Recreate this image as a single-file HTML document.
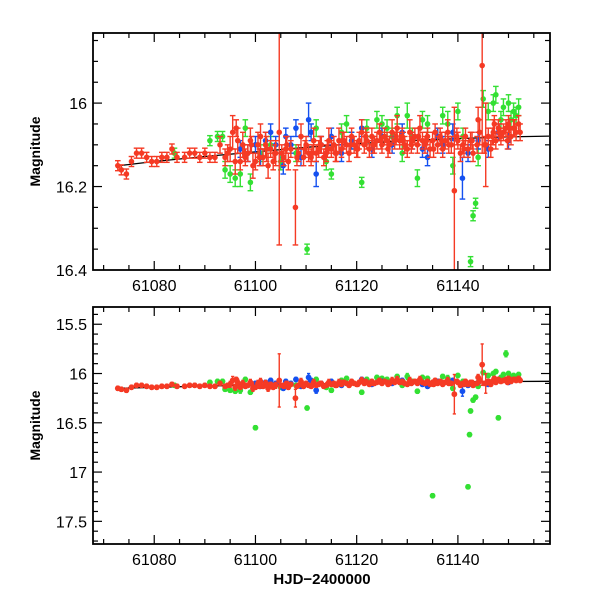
<!DOCTYPE html>
<html><head><meta charset="utf-8">
<style>
html,body{margin:0;padding:0;background:#fff;}
svg{display:block;}
text{font-family:"Liberation Sans",sans-serif;fill:#000;}
</style></head>
<body>
<svg id="chart" width="600" height="600" viewBox="0 0 600 600"></svg>
<script>
const xTicks = [61080, 61100, 61120, 61140];
const topYTicks = [16, 16.2, 16.4];
const botYTicks = [15.5, 16, 16.5, 17, 17.5];
const modelT = [61073, 61080, 61090, 61100, 61110, 61120, 61130, 61140, 61150, 61158];
const modelM = [16.150, 16.140, 16.128, 16.117, 16.106, 16.097, 16.090, 16.085, 16.081, 16.079];

const redT = [61072.8,61073.5,61074.5,61075.5,61076.5,61077.5,61078.5,61079.5,61080.5,61081.5,61082.5,61083.5,61084.5,61086,61087,61088,61089,61090,61091,61092,61093,61094,61094.5,61095,61095.5,61096,61096.5,61097,61097.5,61098,61098.5,61099,61099.5,61100,61100.5,61101,61101.5,61102,61102.5,61103,61103.5,61104,61104.7,61105.2,61105.6,61106,61106.5,61107,61107.9,61108.5,61109,61109.5,61110,61110.5,61111,61111.5,61112,61112.5,61113,61113.5,61114,61114.5,61115,61115.5,61116,61116.5,61117,61117.5,61118,61118.5,61119,61119.5,61120,61120.5,61121,61121.5,61122,61122.5,61123,61123.5,61124,61124.5,61125,61125.5,61126,61126.5,61127,61127.5,61128,61128.5,61129,61129.5,61130,61130.5,61131,61131.5,61132,61132.5,61133,61133.5,61134,61134.5,61135,61135.5,61136,61136.5,61137,61137.5,61138,61138.7,61139.3,61140,61140.5,61141,61141.5,61142,61142.5,61143,61143.8,61144.3,61144.8,61145.5,61146,61146.5,61147,61147.5,61148,61148.5,61149,61149.5,61150,61150.5,61151,61151.5,61152,
61096.2,61097.8,61099.2,61100.8,61102.2,61103.8,61106.2,61108.2,61109.8,61111.2,61112.8,61114.2,61115.8,61117.2,61118.8,61120.2,61121.8,61123.2,61124.8,61126.2,61127.8,61129.2,61130.8,61132.2,61133.8,61135.2,61136.8,61138.2,61139.8,61141.2,61142.8,61145.2,61146.8,61148.2,61149.8,61151.2,61152.3,61150.2,61147.2,61144.0];
const redM = [16.15,16.16,16.17,16.14,16.12,16.12,16.13,16.14,16.14,16.13,16.13,16.11,16.13,16.13,16.12,16.12,16.13,16.12,16.13,16.13,16.10,16.13,16.12,16.11,16.07,16.14,16.09,16.14,16.10,16.13,16.12,16.09,16.15,16.14,16.10,16.08,16.13,16.10,16.15,16.11,16.14,16.12,16.07,16.12,16.13,16.11,16.14,16.11,16.25,16.12,16.08,16.13,16.10,16.12,16.13,16.09,16.12,16.11,16.10,16.13,16.12,16.09,16.11,16.10,16.12,16.09,16.11,16.09,16.10,16.12,16.08,16.10,16.11,16.09,16.07,16.10,16.09,16.11,16.08,16.10,16.09,16.07,16.10,16.08,16.09,16.10,16.07,16.09,16.06,16.09,16.08,16.10,16.11,16.07,16.09,16.08,16.10,16.06,16.09,16.10,16.08,16.11,16.09,16.07,16.10,16.08,16.11,16.09,16.07,16.10,16.21,16.09,16.12,16.10,16.08,16.11,16.09,16.12,16.10,16.07,15.91,16.10,16.08,16.11,16.07,16.09,16.06,16.08,16.07,16.06,16.05,16.08,16.06,16.07,16.05,16.06,
16.12,16.10,16.13,16.11,16.12,16.10,16.13,16.11,16.12,16.10,16.11,16.12,16.09,16.10,16.11,16.08,16.10,16.09,16.11,16.08,16.09,16.10,16.08,16.09,16.11,16.09,16.10,16.08,16.11,16.09,16.10,16.08,16.07,16.09,16.06,16.07,16.06,16.05,16.04,16.06];
const redE = [0.01,0.01,0.01,0.01,0.01,0.01,0.01,0.01,0.01,0.01,0.01,0.01,0.01,0.01,0.01,0.01,0.01,0.01,0.01,0.01,0.02,0.02,0.02,0.03,0.04,0.03,0.03,0.02,0.03,0.02,0.02,0.03,0.03,0.02,0.03,0.03,0.02,0.03,0.03,0.02,0.02,0.03,0.27,0.02,0.02,0.03,0.02,0.02,0.09,0.02,0.03,0.02,0.02,0.02,0.02,0.03,0.02,0.02,0.02,0.02,0.02,0.03,0.02,0.02,0.02,0.03,0.02,0.02,0.02,0.02,0.02,0.02,0.02,0.02,0.03,0.02,0.02,0.02,0.02,0.02,0.02,0.02,0.02,0.02,0.02,0.02,0.03,0.02,0.03,0.02,0.02,0.02,0.02,0.03,0.02,0.02,0.02,0.03,0.02,0.02,0.02,0.02,0.02,0.02,0.02,0.02,0.02,0.02,0.03,0.02,0.20,0.02,0.02,0.02,0.02,0.02,0.02,0.02,0.02,0.03,0.21,0.10,0.02,0.02,0.03,0.02,0.02,0.02,0.02,0.02,0.02,0.02,0.02,0.02,0.02,0.02,
0.02,0.02,0.02,0.03,0.02,0.02,0.02,0.02,0.02,0.02,0.02,0.02,0.02,0.02,0.02,0.02,0.02,0.02,0.02,0.02,0.02,0.02,0.02,0.02,0.02,0.02,0.02,0.02,0.02,0.02,0.02,0.02,0.02,0.02,0.02,0.02,0.02,0.02,0.03,0.02];

const greenT = [61084,61091,61092.5,61093.5,61094,61095,61096,61097,61098,61099,61100,61101,61103,61105,61108,61110.2,61112,61114,61115,61117,61118,61119,61121,61122,61124,61125,61126,61127,61128,61129,61130,61131,61132,61133,61134,61135,61136,61137,61138,61139,61140,61141,61142,61142.3,61142.5,61143,61143.5,61144,61145,61146,61147,61147.5,61148,61148.5,61149,61149.5,61150,61150.5,61151,61151.5,61152];
const greenM = [16.12,16.09,16.08,16.08,16.16,16.17,16.18,16.17,16.06,16.19,16.55,16.12,16.10,16.14,16.12,16.35,16.06,16.14,16.17,16.07,16.05,16.09,16.19,16.06,16.04,16.05,16.06,16.08,16.03,16.12,16.03,16.08,16.18,16.04,16.05,17.24,16.08,16.03,16.05,16.15,16.02,16.08,17.15,16.62,16.38,16.27,16.24,16.13,15.99,16.02,16.00,15.98,16.45,16.04,16.01,15.80,16.00,16.04,16.02,16.03,16.01];
const greenE = [0.01,0.01,0.01,0.01,0.02,0.02,0.02,0.03,0.02,0.02,0.01,0.02,0.02,0.02,0.02,0.01,0.02,0.02,0.01,0.02,0.02,0.02,0.01,0.02,0.02,0.02,0.02,0.02,0.02,0.02,0.03,0.02,0.02,0.02,0.02,0.01,0.02,0.02,0.03,0.02,0.02,0.02,0.01,0.01,0.01,0.01,0.01,0.02,0.02,0.02,0.02,0.02,0.01,0.02,0.02,0.03,0.02,0.02,0.02,0.02,0.02];

const blueT = [61097,61098.5,61100,61101,61102,61103,61104,61105.5,61106,61107,61108,61109,61110.5,61111,61112,61113,61115,61117,61119,61121,61123,61125,61127,61129,61131,61133,61134,61136,61137,61139,61140.9,61142,61144,61146,61148,61150];
const blueM = [16.11,16.12,16.10,16.13,16.09,16.07,16.10,16.15,16.08,16.10,16.06,16.13,16.04,16.07,16.17,16.10,16.08,16.12,16.09,16.06,16.11,16.08,16.10,16.07,16.09,16.11,16.13,16.08,16.10,16.07,16.18,16.12,16.09,16.11,16.07,16.09];
const blueE = [0.02,0.02,0.02,0.02,0.02,0.02,0.02,0.02,0.02,0.02,0.02,0.02,0.04,0.02,0.03,0.02,0.02,0.02,0.02,0.02,0.02,0.02,0.02,0.02,0.02,0.02,0.02,0.02,0.02,0.02,0.05,0.02,0.02,0.02,0.02,0.02];

const NS = "http://www.w3.org/2000/svg";
const svg = document.getElementById('chart');
const X0 = 93, X1 = 550, T0 = 61067.9, T1 = 61158.2;
function xs(t){ return X0 + (t - T0) / (T1 - T0) * (X1 - X0); }
function mk(tag, attrs, parent){
  const e = document.createElementNS(NS, tag);
  for (const k in attrs) e.setAttribute(k, attrs[k]);
  (parent || svg).appendChild(e);
  return e;
}

const panels = [
  {name:'top', y0:33, y1:270, m0:15.832, m1:16.4, ticks:topYTicks, minor:0.05, minorStart:15.85, cap:2.8, r:2.8, emin:0.012},
  {name:'bottom', y0:307, y1:544, m0:15.325, m1:17.73, ticks:botYTicks, minor:0.1, minorStart:15.4, cap:1.6, r:2.9, emin:0.02}
];

panels.forEach(p => {
  const ys = m => p.y0 + (m - p.m0) / (p.m1 - p.m0) * (p.y1 - p.y0);
  const g = mk('g', {});
  
  
  const cid = 'clip-' + p.name;
  const cp = mk('clipPath', {id: cid}, g);
  mk('rect', {x: X0, y: p.y0, width: X1 - X0, height: p.y1 - p.y0}, cp);
  const plot = mk('g', {'clip-path': 'url(#' + cid + ')'}, g);
  
  

  let d = '';
  modelT.forEach((t, i) => { d += (i ? 'L' : 'M') + xs(t).toFixed(1) + ' ' + ys(modelM[i]).toFixed(1); });
  const ml = mk('path', {d: d, stroke: '#000', 'stroke-width': 1.3, fill: 'none'}, plot);
  
  

  function series(T, M, E, color, nm){
    const sg = mk('g', {}, plot);
    
    
    T.forEach((t, i) => {
      const e = Math.max(E[i], p.emin);
      const x = xs(t), y = ys(M[i]), ya = ys(M[i] - e), yb = ys(M[i] + e);
      mk('line', {x1: x, x2: x, y1: ya, y2: yb, stroke: color, 'stroke-width': 1.4}, sg);
      mk('line', {x1: x - p.cap, x2: x + p.cap, y1: ya, y2: ya, stroke: color, 'stroke-width': 1.4}, sg);
      mk('line', {x1: x - p.cap, x2: x + p.cap, y1: yb, y2: yb, stroke: color, 'stroke-width': 1.4}, sg);
      const c = mk('circle', {cx: x, cy: y, r: p.r, fill: color}, sg);
      
      
    });
  }
  series(greenT, greenM, greenE, '#33e033', 'green');
  series(blueT, blueM, blueE, '#1450f0', 'blue');
  series(redT, redM, redE, '#f53a24', 'red');

  const fr = mk('rect', {x: X0, y: p.y0, width: X1 - X0, height: p.y1 - p.y0, fill: 'none', stroke: '#000', 'stroke-width': 1.8}, g);
  
  

  for (let t = 61070; t <= 61155; t += 5) {
    const x = xs(t), major = (t % 20 === 0);
    const L = major ? 9 : 5;
    mk('line', {x1: x, x2: x, y1: p.y1, y2: p.y1 - L, stroke: '#000', 'stroke-width': 1.2}, g);
    mk('line', {x1: x, x2: x, y1: p.y0, y2: p.y0 + L, stroke: '#000', 'stroke-width': 1.2}, g);
  }
  xTicks.forEach(t => {
    const tx = mk('text', {x: xs(t), y: p.y1 + 21, 'font-size': 16, 'text-anchor': 'middle'}, g);
    tx.textContent = t;
    
    
  });
  for (let m = p.minorStart; m < p.m1; m += p.minor) {
    const y = ys(m);
    const major = p.ticks.some(v => Math.abs(v - m) < 1e-6);
    const L = major ? 9 : 5;
    mk('line', {x1: X0, x2: X0 + L, y1: y, y2: y, stroke: '#000', 'stroke-width': 1.2}, g);
    mk('line', {x1: X1, x2: X1 - L, y1: y, y2: y, stroke: '#000', 'stroke-width': 1.2}, g);
  }
  p.ticks.forEach(v => {
    const tx = mk('text', {x: X0 - 6, y: ys(v) + 6, 'font-size': 16, 'text-anchor': 'end'}, g);
    tx.textContent = String(v);
    
    
  });
  const yl = mk('text', {x: 0, y: 0, 'font-size': 14, 'text-anchor': 'middle', 'font-weight': 'bold', transform: 'translate(40,' + ((p.y0 + p.y1) / 2) + ') rotate(-90)'}, g);
  yl.textContent = 'Magnitude';
  
  
});

const xt = mk('text', {x: 322, y: 584, 'font-size': 15, 'text-anchor': 'middle', 'font-weight': 'bold'});
xt.textContent = 'HJD\u22122400000';


</script>
</body></html>
